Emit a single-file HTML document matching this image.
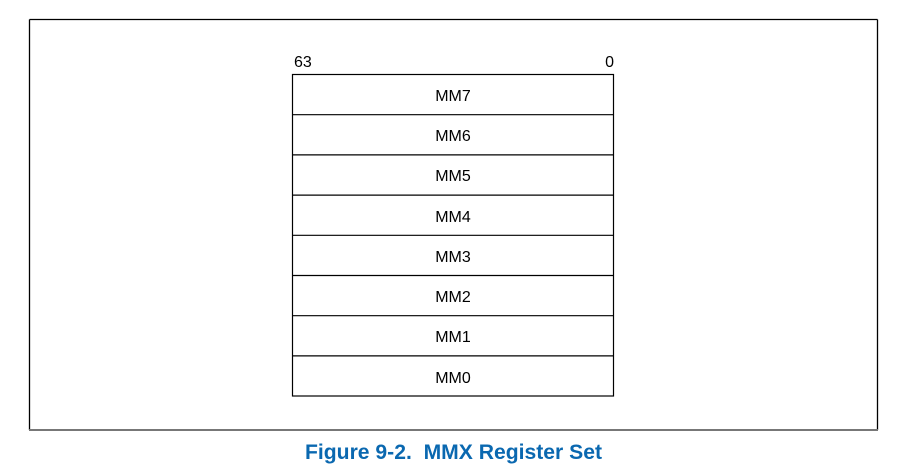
<!DOCTYPE html>
<html><head><style>html,body{margin:0;padding:0;background:#fff}svg{display:block}</style></head>
<body>
<svg width="907" height="473" xmlns="http://www.w3.org/2000/svg" font-family="Liberation Sans, Arial, sans-serif">
<line x1="29.5" y1="19.5" x2="877.5" y2="19.5" stroke="#000" stroke-width="1.3"/>
<line x1="29.5" y1="19.5" x2="29.5" y2="430" stroke="#000" stroke-width="1.3"/>
<line x1="877.5" y1="19.5" x2="877.5" y2="430" stroke="#000" stroke-width="1.3"/>
<line x1="29" y1="430" x2="878" y2="430" stroke="#777" stroke-width="2"/>
<text x="294" y="67" font-size="16">63</text>
<text x="614" y="67" font-size="16" text-anchor="end">0</text>
<rect x="292.5" y="74.5" width="321" height="321.5" fill="none" stroke="#000" stroke-width="1.2"/>
<g stroke="#000" stroke-width="1.2">
<line x1="292" y1="114.7" x2="614" y2="114.7"/>
<line x1="292" y1="154.9" x2="614" y2="154.9"/>
<line x1="292" y1="195.1" x2="614" y2="195.1"/>
<line x1="292" y1="235.3" x2="614" y2="235.3"/>
<line x1="292" y1="275.5" x2="614" y2="275.5"/>
<line x1="292" y1="315.7" x2="614" y2="315.7"/>
<line x1="292" y1="355.9" x2="614" y2="355.9"/>
</g>
<g font-size="16" text-anchor="middle">
<text x="453" y="101">MM7</text>
<text x="453" y="141">MM6</text>
<text x="453" y="181">MM5</text>
<text x="453" y="222">MM4</text>
<text x="453" y="262">MM3</text>
<text x="453" y="302">MM2</text>
<text x="453" y="342">MM1</text>
<text x="453" y="383">MM0</text>
</g>
<text x="305" y="459" font-size="21" font-weight="bold" fill="#0a68b0" textLength="297" lengthAdjust="spacingAndGlyphs" xml:space="preserve">Figure 9-2.&#160; MMX Register Set</text>
</svg>
</body></html>
